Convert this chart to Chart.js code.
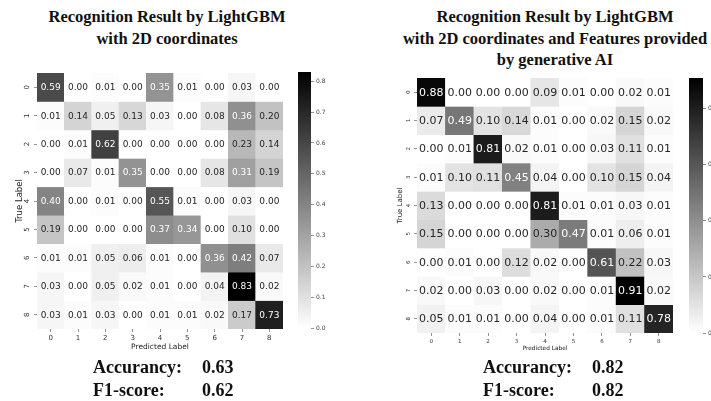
<!DOCTYPE html>
<html>
<head>
<meta charset="utf-8">
<script src="https://cdn.jsdelivr.net/npm/chart.js@4.4.1/dist/chart.umd.min.js"></script>
<style>
  html, body { margin: 0; padding: 0; background: #fff; overflow: hidden; }
  #wrap { position: relative; width: 711px; height: 401px; overflow: hidden; background: #fff; }
  canvas { position: absolute; }
  .title {
    position: absolute; width: 400px; text-align: center;
    font: bold 16.5px "Liberation Serif", "Times New Roman", serif;
    line-height: 21.5px; color: #111;
  }
  .score {
    position: absolute; white-space: nowrap;
    font: bold 18px "Liberation Serif", "Times New Roman", serif;
    line-height: 22px; color: #111;
  }
</style>
</head>
<body>
<div id="wrap">
  <div class="title" style="left:-33px;top:6px">Recognition Result by LightGBM<br>with 2D coordinates</div>
  <div class="title" style="left:355px;top:6px">Recognition Result by LightGBM<br>with 2D coordinates and Features provided<br>by generative AI</div>

  <canvas id="heatCoords" width="300" height="300" style="left:0;top:60px"></canvas>
  <canvas id="barCoords" width="60" height="290" style="left:290px;top:60px"></canvas>
  <canvas id="heatAI" width="330" height="300" style="left:360px;top:60px"></canvas>
  <canvas id="barAI" width="40" height="290" style="left:681px;top:60px"></canvas>
</div>

<script>
// Class labels on both axes
const predictedLabels = ['0', '1', '2', '3', '4', '5', '6', '7', '8'];
const trueLabels = ['0', '1', '2', '3', '4', '5', '6', '7', '8'];

// Normalised confusion matrix, model trained on 2D coordinates only (rows = true label)
const coordsOnly = [
  [0.59, 0.00, 0.01, 0.00, 0.35, 0.01, 0.00, 0.03, 0.00],
  [0.01, 0.14, 0.05, 0.13, 0.03, 0.00, 0.08, 0.36, 0.20],
  [0.00, 0.01, 0.62, 0.00, 0.00, 0.00, 0.00, 0.23, 0.14],
  [0.00, 0.07, 0.01, 0.35, 0.00, 0.00, 0.08, 0.31, 0.19],
  [0.40, 0.00, 0.01, 0.00, 0.55, 0.01, 0.00, 0.03, 0.00],
  [0.19, 0.00, 0.00, 0.00, 0.37, 0.34, 0.00, 0.10, 0.00],
  [0.01, 0.01, 0.05, 0.06, 0.01, 0.00, 0.36, 0.42, 0.07],
  [0.03, 0.00, 0.05, 0.02, 0.01, 0.00, 0.04, 0.83, 0.02],
  [0.03, 0.01, 0.03, 0.00, 0.01, 0.01, 0.02, 0.17, 0.73]
];

// Normalised confusion matrix, 2D coordinates plus generated features
const coordsWithAI = [
  [0.88, 0.00, 0.00, 0.00, 0.09, 0.01, 0.00, 0.02, 0.01],
  [0.07, 0.49, 0.10, 0.14, 0.01, 0.00, 0.02, 0.15, 0.02],
  [0.00, 0.01, 0.81, 0.02, 0.01, 0.00, 0.03, 0.11, 0.01],
  [0.01, 0.10, 0.11, 0.45, 0.04, 0.00, 0.10, 0.15, 0.04],
  [0.13, 0.00, 0.00, 0.00, 0.81, 0.01, 0.01, 0.03, 0.01],
  [0.15, 0.00, 0.00, 0.00, 0.30, 0.47, 0.01, 0.06, 0.01],
  [0.00, 0.01, 0.00, 0.12, 0.02, 0.00, 0.61, 0.22, 0.03],
  [0.02, 0.00, 0.03, 0.00, 0.02, 0.00, 0.01, 0.91, 0.02],
  [0.05, 0.01, 0.01, 0.00, 0.04, 0.00, 0.01, 0.11, 0.78]
];

// Colour bar tick values
const colorbarTicksCoords = [0.0, 0.1, 0.2, 0.3, 0.4, 0.5, 0.6, 0.7, 0.8];
const colorbarTicksAI = [0.0, 0.2, 0.4, 0.6, 0.8];

// Summary scores under each matrix
const scoreNames = ['Accurancy:', 'F1-score:'];
const scoresCoords = [0.63, 0.62];
const scoresAI = [0.82, 0.82];

// Reversed grey colormap: 0 -> white, vmax -> black
function greyLevel(v, vmax) {
  return Math.round(255 * (1 - v / vmax));
}

// Writes each cell's value in its centre, white on dark cells
const cellLabels = {
  id: 'cellLabels',
  afterDatasetsDraw(chart, args, opts) {
    const ctx = chart.ctx;
    ctx.save();
    ctx.font = opts.size + 'px "DejaVu Sans"';
    ctx.textAlign = 'center';
    ctx.textBaseline = 'middle';
    chart.data.datasets.forEach((ds, di) => {
      chart.getDatasetMeta(di).data.forEach((el, i) => {
        const v = ds.values[i];
        ctx.fillStyle = greyLevel(v, opts.vmax) <= 168 ? '#ffffff' : '#262626';
        const c = el.getCenterPoint();
        ctx.fillText(v.toFixed(2), c.x, c.y + 0.5);
      });
    });
    ctx.restore();
  }
};

// Row labels, turned 90 degrees like the matplotlib defaults
const rotatedRowTicks = {
  id: 'rotatedRowTicks',
  afterDraw(chart, args, opts) {
    const scale = chart.scales.y;
    const ctx = chart.ctx;
    ctx.save();
    ctx.font = opts.size + 'px "DejaVu Sans"';
    ctx.fillStyle = '#333';
    ctx.textAlign = 'center';
    ctx.textBaseline = 'middle';
    scale.ticks.forEach((t, i) => {
      const y = scale.getPixelForTick(i);
      ctx.save();
      ctx.translate(opts.x, y);
      ctx.rotate(-Math.PI / 2);
      ctx.fillText(trueLabels[i], 0, 0);
      ctx.restore();
    });
    ctx.restore();
  }
};

function heatmap(id, matrix, sz) {
  const vmax = Math.max(...matrix.flat());
  return new Chart(document.getElementById(id), {
    type: 'bar',
    data: {
      labels: predictedLabels,
      datasets: matrix.map((row, r) => ({
        label: trueLabels[r],
        values: row,
        data: row.map(() => [r, r + 1]),
        backgroundColor: row.map(v => {
          const g = greyLevel(v, vmax);
          return `rgb(${g},${g},${g})`;
        }),
        borderWidth: 0,
        grouped: false,
        barPercentage: 1,
        categoryPercentage: 1
      }))
    },
    options: {
      responsive: false,
      animation: false,
      devicePixelRatio: 1,
      layout: { padding: sz.padding },
      plugins: {
        legend: { display: false },
        tooltip: { enabled: false },
        cellLabels: { size: sz.cell, vmax: vmax },
        rotatedRowTicks: { size: sz.tick, x: sz.rowTickX }
      },
      scales: {
        x: {
          type: 'category',
          offset: true,
          grid: { offset: false, drawOnChartArea: false, drawTicks: true, tickLength: 3, color: '#777', lineWidth: 0.8 },
          border: { display: false },
          ticks: { font: { size: sz.tick, family: 'DejaVu Sans' }, color: '#333', padding: 2, maxRotation: 0 },
          title: {
            display: true, text: 'Predicted Label', color: '#222',
            font: { size: sz.xTitle, family: 'DejaVu Sans' },
            padding: { top: 0, bottom: sz.xTitlePad }
          },
          afterFit: s => { s.height = sz.xAxisH; }
        },
        y: {
          type: 'linear',
          min: 0,
          max: 9,
          reverse: true,
          stacked: false,
          afterBuildTicks: s => { s.ticks = trueLabels.map((_, i) => ({ value: i + 0.5 })); },
          ticks: { display: false },
          grid: { drawOnChartArea: false, drawTicks: true, tickLength: 3, color: '#777', lineWidth: 0.8 },
          border: { display: false },
          title: {
            display: true, text: 'True Label', color: '#222',
            font: { size: sz.yTitle, family: 'DejaVu Sans' },
            padding: { top: sz.yTitlePad, bottom: 0 }
          },
          afterFit: s => { s.width = sz.yAxisW; }
        }
      }
    },
    plugins: [cellLabels, rotatedRowTicks]
  });
}

function colorbar(id, matrix, tickValues, padding, axisW) {
  const vmax = Math.max(...matrix.flat());
  return new Chart(document.getElementById(id), {
    type: 'bar',
    data: {
      labels: [''],
      datasets: [{
        data: [[0, vmax]],
        backgroundColor: ctx => {
          const a = ctx.chart.chartArea;
          if (!a) return '#888';
          const g = ctx.chart.ctx.createLinearGradient(0, a.bottom, 0, a.top);
          g.addColorStop(0, '#ffffff');
          g.addColorStop(1, '#000000');
          return g;
        },
        borderWidth: 0,
        barPercentage: 1,
        categoryPercentage: 1
      }]
    },
    options: {
      responsive: false,
      animation: false,
      devicePixelRatio: 1,
      layout: { padding: padding },
      plugins: { legend: { display: false }, tooltip: { enabled: false } },
      scales: {
        x: { display: false },
        y: {
          position: 'right',
          min: 0,
          max: vmax,
          afterBuildTicks: s => { s.ticks = tickValues.map(v => ({ value: v })); },
          ticks: {
            callback: v => Number(v).toFixed(1),
            font: { size: 6, family: 'DejaVu Sans' }, color: '#444', padding: 2
          },
          grid: { drawOnChartArea: false, drawTicks: true, tickLength: 3, color: '#777', lineWidth: 0.8 },
          border: { display: false },
          afterFit: s => { s.width = axisW; }
        }
      }
    }
  });
}

heatmap('heatCoords', coordsOnly, {
  padding: { left: 0, right: 17, top: 13, bottom: 0 },
  yAxisW: 37, xAxisH: 31,
  cell: 9, tick: 7, rowTickX: 27,
  xTitle: 7.5, xTitlePad: 8.5,
  yTitle: 8.5, yTitlePad: 14.4
});
heatmap('heatAI', coordsWithAI, {
  padding: { left: 0, right: 17, top: 18, bottom: 0 },
  yAxisW: 57, xAxisH: 27,
  cell: 11, tick: 5.5, rowTickX: 49,
  xTitle: 5.8, xTitlePad: 8.5,
  yTitle: 7, yTitlePad: 35.8
});
colorbar('barCoords', coordsOnly, colorbarTicksCoords, { left: 8, right: 0, top: 12, bottom: 22 }, 39);
colorbar('barAI', coordsWithAI, colorbarTicksAI, { left: 8, right: 0, top: 18, bottom: 17 }, 18);

// Score lines under each panel
const wrap = document.getElementById('wrap');
function addScores(labelX, valueX, values) {
  scoreNames.forEach((name, i) => {
    const top = 356 + i * 23;
    const a = document.createElement('div');
    a.className = 'score';
    a.style.left = labelX + 'px';
    a.style.top = top + 'px';
    a.textContent = name;
    wrap.appendChild(a);
    const b = document.createElement('div');
    b.className = 'score';
    b.style.left = valueX + 'px';
    b.style.top = top + 'px';
    b.textContent = values[i].toFixed(2);
    wrap.appendChild(b);
  });
}
addScores(93, 202, scoresCoords);
addScores(483, 592, scoresAI);
</script>
</body>
</html>
